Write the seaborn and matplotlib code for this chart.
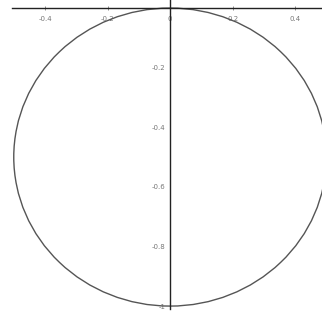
import matplotlib
matplotlib.use("Agg")
import matplotlib.pyplot as plt
import seaborn as sns
from matplotlib.patches import Circle

# values
circle_center = (0.0, -0.5)
circle_radius = 0.5
x_ticks = [-0.4, -0.2, 0.0, 0.2, 0.4]
x_tick_labels = ["-0.4", "-0.2", "0", "0.2", "0.4"]
y_ticks = [-0.2, -0.4, -0.6, -0.8, -1.0]
y_tick_labels = ["-0.2", "-0.4", "-0.6", "-0.8", "-1"]

sns.set_style("white")
plt.rcParams["font.family"] = ["DejaVu Sans"]

fig = plt.figure(figsize=(3.22, 3.18), dpi=100)
ax = fig.add_axes([0, 0, 1, 1])
ax.set_xlim(-0.544, 0.486)
ax.set_ylim(-1.040, 0.027)

ax.add_patch(Circle(circle_center, circle_radius, fill=False,
                    edgecolor="#555555", linewidth=1.0))

# axes through the origin
ax.spines["top"].set_visible(False)
ax.spines["right"].set_visible(False)
ax.spines["left"].set_position(("data", 0))
ax.spines["bottom"].set_position(("data", 0))
ax.spines["left"].set_bounds(-1.01, 0.027)
ax.spines["bottom"].set_bounds(-0.505, 0.486)
for s in ("left", "bottom"):
    ax.spines[s].set_color("#222222")
    ax.spines[s].set_linewidth(1.0)

ax.set_xticks(x_ticks)
ax.set_xticklabels(x_tick_labels)
ax.set_yticks(y_ticks)
ax.set_yticklabels(y_tick_labels)
ax.tick_params(axis="both", direction="inout", length=3, width=0.6,
               colors="#777777", labelsize=5, pad=2)
ax.tick_params(axis="x", bottom=True, pad=4)

fig.savefig("out.png", dpi=100)
